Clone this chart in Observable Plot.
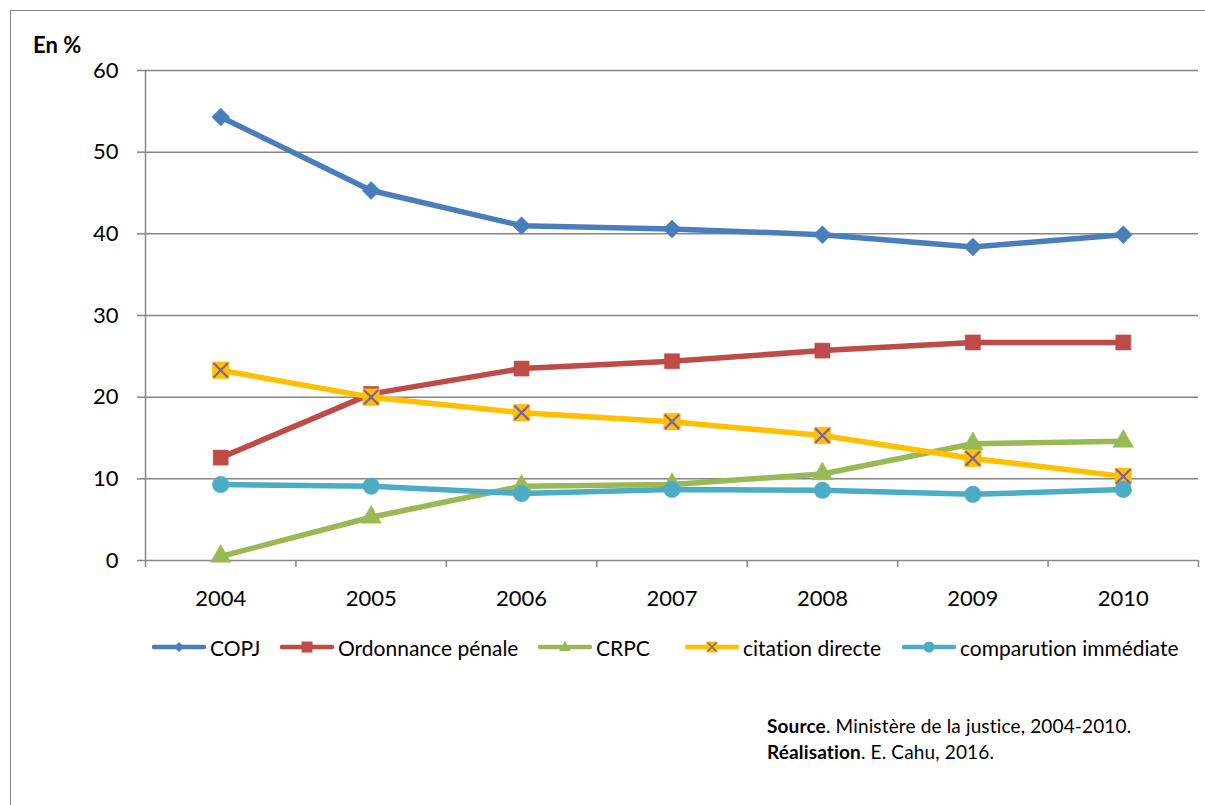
<!DOCTYPE html>
<html>
<head>
<meta charset="utf-8">
<script src="https://cdn.jsdelivr.net/npm/d3@7"></script>
<script src="https://cdn.jsdelivr.net/npm/@observablehq/plot@0.6"></script>
<style>
  html, body { margin: 0; padding: 0; background: #fff; overflow: hidden; }
  #page { position: relative; width: 1205px; height: 805px; overflow: hidden; font-family: Lato, "Open Sans", sans-serif; color: #000; font-variant-ligatures: none; }
  #frame { position: absolute; left: 10px; top: 10px; width: 1220px; height: 820px; border: 1.5px solid #868686; box-sizing: border-box; }
  #chart { position: absolute; left: 0; top: 0; }
  #unit { position: absolute; left: 33px; top: 31px; font-weight: bold; font-size: 22px; }
  .leg { position: absolute; top: 633px; display: flex; align-items: center; font-size: 21px; white-space: nowrap; }
  .leg svg { margin-right: 4px; }
  #source { position: absolute; left: 767px; top: 713px; font-size: 19px; letter-spacing: 0.15px; line-height: 26px; }
</style>
</head>
<body>
<div id="page">
  <div id="frame"></div>
  <div id="chart"></div>
  <div id="unit">En %</div>
  <div id="legend"></div>
  <div id="source"><b>Source</b>. Ministère de la justice, 2004-2010.<br><b>Réalisation</b>. E. Cahu, 2016.</div>
</div>
<script>
const years = [2004, 2005, 2006, 2007, 2008, 2009, 2010];
const seriesNames = ["COPJ", "Ordonnance pénale", "CRPC", "citation directe", "comparution immédiate"];
const copj = [54.3, 45.3, 41.0, 40.6, 39.9, 38.4, 39.9];
const ordonnance = [12.6, 20.4, 23.5, 24.4, 25.7, 26.7, 26.7];
const crpc = [0.5, 5.3, 9.1, 9.3, 10.6, 14.3, 14.6];
const citation = [23.3, 20.0, 18.1, 17.0, 15.3, 12.5, 10.3];
const comparution = [9.3, 9.1, 8.2, 8.7, 8.6, 8.1, 8.7];
const yTicks = [0, 10, 20, 30, 40, 50, 60];

const colors = ["#4A7EBB", "#BE4B48", "#98B954", "#FFC000", "#4BACC6"];
const xColor = "#7F63A1";
const symbols = ["diamond2", "square", "triangle", "square", "circle"];
const radii = [8.1, 8.5, 7.6, 9.4, 8.3];

const valuesBySeries = [copj, ordonnance, crpc, citation, comparution];
const data = seriesNames.flatMap((s, i) => years.map((yr, j) => ({series: s, year: yr, value: valuesBySeries[i][j], idx: i})));

const boundaries = years.map(y => y - 0.5).concat([years[years.length - 1] + 0.5]);
const grid = "#868686";

const marks = [
  Plot.ruleY(yTicks, {stroke: grid, strokeWidth: 1.5}),
  Plot.ruleX([boundaries[0]], {y1: 0, y2: 60, stroke: grid, strokeWidth: 1.5}),
  Plot.axisY({ticks: yTicks, tickSize: 8, tickPadding: 19, fontSize: 22, stroke: grid, strokeWidth: 1.5, label: null}),
  Plot.axisX({ticks: boundaries, tickSize: 7, tickFormat: () => "", stroke: grid, strokeWidth: 1.5, label: null}),
  Plot.axisX({ticks: years, tickSize: 0, tickPadding: 30, tickFormat: d => String(d), fontSize: 22, label: null})
];

seriesNames.forEach((s, i) => {
  const d = data.filter(r => r.series === s);
  marks.push(Plot.line(d, {x: "year", y: "value", stroke: colors[i], strokeWidth: 5.5, strokeLinejoin: "round", curve: "linear"}));
  marks.push(Plot.dot(d, {x: "year", y: "value", symbol: () => symbols[i], r: radii[i], fill: colors[i], stroke: colors[i], strokeWidth: 0.5}));
  if (s === "citation directe") {
    marks.push(Plot.dot(d, {x: "year", y: "value", symbol: "times", r: 6.6, stroke: xColor, strokeWidth: 2.2}));
  }
});

const chart = Plot.plot({
  width: 1205,
  height: 620,
  marginTop: 70,
  marginBottom: 60,
  marginLeft: 145,
  marginRight: 7,
  style: {background: "transparent", fontFamily: "Lato, 'Open Sans', sans-serif", color: "#000", overflow: "visible"},
  x: {domain: [boundaries[0], boundaries[boundaries.length - 1]], axis: null},
  y: {domain: [0, 60], axis: null},
  symbol: {type: "identity"},
  marks
});
document.getElementById("chart").appendChild(chart);

// legend
const legendLeft = [152, 280, 538, 685, 902];
const legend = document.getElementById("legend");
seriesNames.forEach((s, i) => {
  const item = document.createElement("div");
  item.className = "leg";
  item.style.left = legendLeft[i] + "px";
  const w = 54, h = 28, cx = w / 2, cy = h / 2;
  let marker = "";
  const c = colors[i];
  if (symbols[i] === "diamond2") marker = `<path d="M${cx} ${cy-5}L${cx+5} ${cy}L${cx} ${cy+5}L${cx-5} ${cy}Z" fill="${c}"/>`;
  else if (symbols[i] === "square") marker = `<rect x="${cx-5.5}" y="${cy-5.5}" width="11" height="11" fill="${c}"/>`;
  else if (symbols[i] === "triangle") marker = `<path d="M${cx} ${cy-6}L${cx+6} ${cy+4}L${cx-6} ${cy+4}Z" fill="${c}"/>`;
  else if (symbols[i] === "circle") marker = `<circle cx="${cx}" cy="${cy}" r="5.5" fill="${c}"/>`;
  if (s === "citation directe") marker += `<path d="M${cx-4.5} ${cy-4.5}L${cx+4.5} ${cy+4.5}M${cx+4.5} ${cy-4.5}L${cx-4.5} ${cy+4.5}" stroke="${xColor}" stroke-width="1.6"/>`;
  item.innerHTML = `<svg width="${w}" height="${h}"><line x1="2" y1="${cy}" x2="${w-2}" y2="${cy}" stroke="${c}" stroke-width="4.5" stroke-linecap="round"/>${marker}</svg><span>${s}</span>`;
  legend.appendChild(item);
});
</script>
</body>
</html>
